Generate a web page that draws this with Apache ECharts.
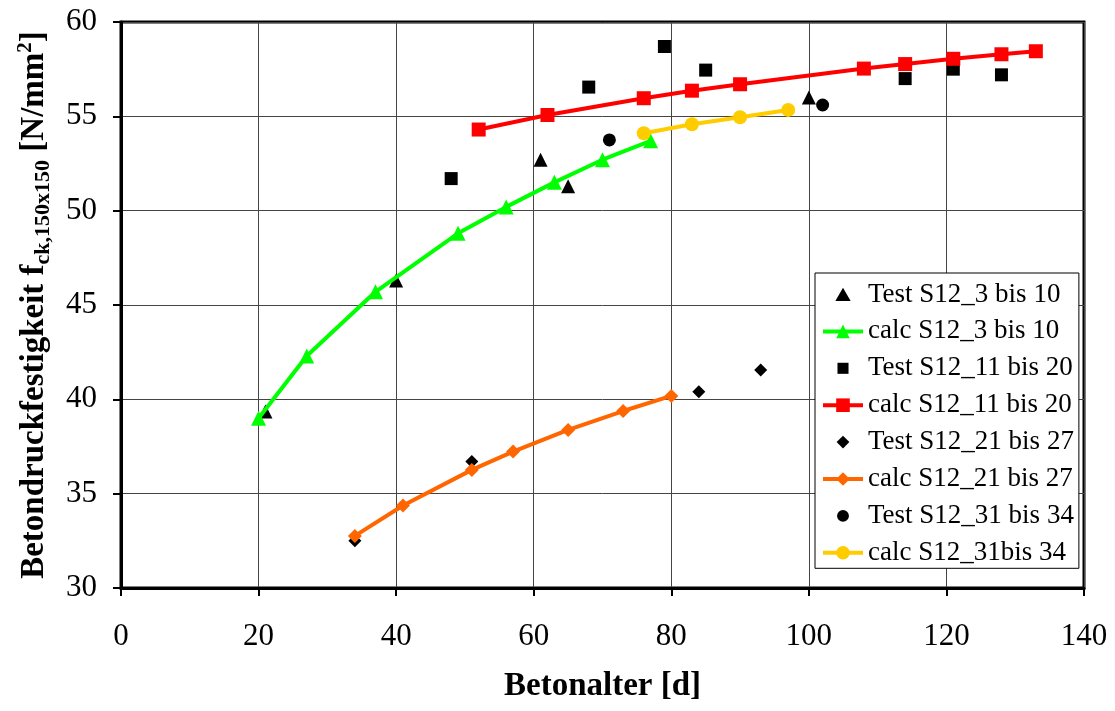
<!DOCTYPE html>
<html><head><meta charset="utf-8">
<script src="https://cdn.jsdelivr.net/npm/echarts@6/dist/echarts.min.js"></script>
<style>html,body{margin:0;padding:0;background:#fff}#c{width:1115px;height:711px}</style>
</head><body><div id="c"></div>
<script>
// ---- data ----
var test1X = [21, 40, 61, 65, 100];
var test1Y = [39.35, 46.3, 52.7, 51.3, 56.0];
var calc1X = [20, 27, 37, 49, 56, 63, 70, 77];
var calc1Y = [39.0, 42.3, 45.7, 48.8, 50.2, 51.5, 52.7, 53.7];
var test2X = [48, 68, 79, 85, 114, 121, 128];
var test2Y = [51.7, 56.55, 58.7, 57.45, 57.0, 57.5, 57.2];
var calc2X = [52, 62, 76, 83, 90, 108, 114, 121, 128, 133];
var calc2Y = [54.3, 55.07, 55.96, 56.36, 56.7, 57.53, 57.77, 58.05, 58.29, 58.45];
var test3X = [34, 51, 84, 93];
var test3Y = [32.5, 36.7, 40.4, 41.55];
var calc3X = [34, 41, 51, 57, 65, 73, 80];
var calc3Y = [32.76, 34.37, 36.26, 37.23, 38.38, 39.38, 40.18];
var test4X = [71, 102];
var test4Y = [53.75, 55.6];
var calc4X = [76, 83, 90, 97];
var calc4Y = [54.1, 54.58, 54.95, 55.34];
var seriesNames = ['Test S12_3 bis 10', 'calc S12_3 bis 10', 'Test S12_11 bis 20', 'calc S12_11 bis 20',
  'Test S12_21 bis 27', 'calc S12_21 bis 27', 'Test S12_31 bis 34', 'calc S12_31bis 34'];
var xTitle = 'Betonalter [d]';

function pairs(xs, ys) { return xs.map(function (x, i) { return [x, ys[i]]; }); }
var FONT = "'Liberation Serif', 'Times New Roman', serif";

// legend icons for the test (marker-only) series, padded inside a 20x20 box
var ICON_TRI = 'path://M0,0M20,20M1,17.5L10,2L19,17.5Z';
var ICON_RECT = 'path://M0,0M20,20M3.5,3.5L16.5,3.5L16.5,16.5L3.5,16.5Z';
var ICON_DIA = 'path://M0,0M20,20M10,2.5L17.5,10L10,17.5L2.5,10Z';
var ICON_CIR = 'path://M0,0M20,20M10,3A7,7 0 1,1 9.99,3Z';

function testSeries(name, xs, ys, symbol, size) {
  return { name: name, type: 'scatter', data: pairs(xs, ys), symbol: symbol, symbolSize: size,
    itemStyle: { color: '#000', opacity: 1 }, z: 2 };
}
function calcSeries(name, xs, ys, color, symbol, size) {
  return { name: name, type: 'line', data: pairs(xs, ys), symbol: symbol, symbolSize: size,
    showSymbol: true, lineStyle: { color: color, width: 4 }, itemStyle: { color: color, opacity: 1 }, z: 3 };
}

var chart = echarts.init(document.getElementById('c'), null, { renderer: 'canvas' });
chart.setOption({
  animation: false,
  backgroundColor: '#fff',
  grid: { left: 121, right: 31, top: 22, bottom: 123, show: true, borderColor: '#000', borderWidth: 3, backgroundColor: 'transparent' },
  legend: {
    orient: 'vertical', left: 815, top: 273,
    backgroundColor: '#fff', borderColor: '#000', borderWidth: 1,
    padding: [8, 5, 2, 6], itemGap: 9.9, itemWidth: 40, itemHeight: 17,
    symbolKeepAspect: true,
    lineStyle: { width: 4 },
    textStyle: { fontFamily: FONT, fontSize: 27, color: '#000', lineHeight: 26 },
    data: [
      { name: seriesNames[0], icon: ICON_TRI },
      { name: seriesNames[1] },
      { name: seriesNames[2], icon: ICON_RECT },
      { name: seriesNames[3] },
      { name: seriesNames[4], icon: ICON_DIA },
      { name: seriesNames[5] },
      { name: seriesNames[6], icon: ICON_CIR },
      { name: seriesNames[7] }
    ]
  },
  xAxis: {
    type: 'value', min: 0, max: 140, interval: 20,
    name: xTitle, nameLocation: 'middle', nameGap: 82,
    nameTextStyle: { fontFamily: FONT, fontSize: 33, fontWeight: 'bold', color: '#000' },
    axisLine: { show: true, onZero: false, lineStyle: { color: '#000', width: 3 } },
    axisTick: { show: true, inside: false, length: 8, lineStyle: { color: '#000', width: 2 } },
    axisLabel: { fontFamily: FONT, fontSize: 31, color: '#000', margin: 33 },
    splitLine: { show: true, lineStyle: { color: '#444', width: 1 } }
  },
  yAxis: {
    type: 'value', min: 30, max: 60, interval: 5,
    name: '{b|Betondruckfestigkeit f}{s|ck,150x150}{b| [N/mm}{p|2}{b|]}',
    nameLocation: 'middle', nameGap: 67, nameRotate: 90,
    nameTextStyle: {
      fontFamily: FONT, fontWeight: 'bold', color: '#000',
      rich: {
        b: { fontFamily: FONT, fontSize: 33, fontWeight: 'bold', color: '#000', lineHeight: 39 },
        s: { fontFamily: FONT, fontSize: 22, fontWeight: 'bold', color: '#000', lineHeight: 21, verticalAlign: 'bottom' },
        p: { fontFamily: FONT, fontSize: 21, fontWeight: 'bold', color: '#000', lineHeight: 22, verticalAlign: 'top' }
      }
    },
    axisLine: { show: true, onZero: false, lineStyle: { color: '#000', width: 3 } },
    axisTick: { show: true, inside: false, length: 8, lineStyle: { color: '#000', width: 2 } },
    axisLabel: { fontFamily: FONT, fontSize: 31, color: '#000', margin: 24 },
    splitLine: { show: true, lineStyle: { color: '#444', width: 1 } }
  },
  series: [
    testSeries(seriesNames[0], test1X, test1Y, 'triangle', 14),
    calcSeries(seriesNames[1], calc1X, calc1Y, '#00ff00', 'triangle', 15),
    testSeries(seriesNames[2], test2X, test2Y, 'rect', 13),
    calcSeries(seriesNames[3], calc2X, calc2Y, '#ff0000', 'rect', 14),
    testSeries(seriesNames[4], test3X, test3Y, 'diamond', 13),
    calcSeries(seriesNames[5], calc3X, calc3Y, '#ff6600', 'diamond', 14),
    testSeries(seriesNames[6], test4X, test4Y, 'circle', 13),
    calcSeries(seriesNames[7], calc4X, calc4Y, '#ffcc00', 'circle', 14)
  ]
});
</script></body></html>
